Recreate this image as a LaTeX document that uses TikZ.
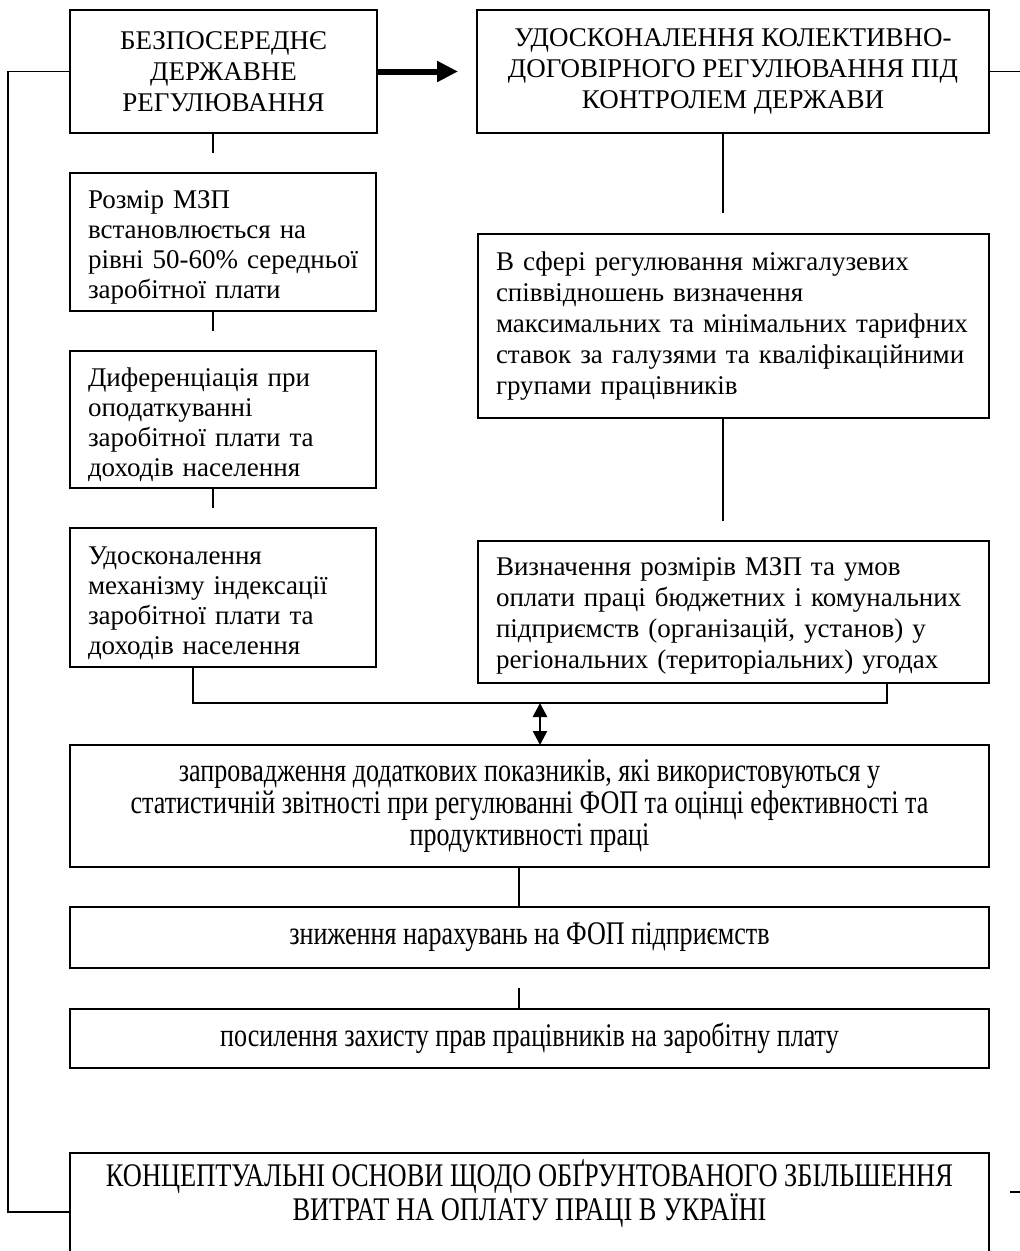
\documentclass[tikz,border=0pt]{standalone}
\usepackage{fontspec}
\setmainfont{Liberation Serif}
\newfontfamily\condfont[FakeStretch=0.79]{Liberation Serif}
\newfontfamily\capcondfont[FakeStretch=0.8]{Liberation Serif}
\usetikzlibrary{arrows.meta}
\newcommand\topstrut[1]{\rule{0pt}{#1}}
\begin{document}
\begin{tikzpicture}[x=1pt,y=-1pt,
  box/.style={draw, line width=1.6pt, inner sep=0pt, outer sep=0pt},
  capfont/.style={font=\fontsize{27}{31}\selectfont},
  cfont/.style={font=\fontsize{27}{30}\selectfont},
  dfont/.style={font=\fontsize{27}{31}\selectfont},
  condtext/.style={font=\condfont\fontsize{33}{32}\selectfont},
  capcondtext/.style={font=\capcondfont\fontsize{33}{34}\selectfont},
  lefttext/.style={align=left, inner xsep=18pt},
  conn/.style={line width=1.4pt},
  bigarrow/.style={line width=6pt, -{Triangle[length=21pt,width=20pt]}},
  dblarrow/.style={line width=2.6pt, {Triangle[length=14pt,width=14pt]}-{Triangle[length=14pt,width=14pt]}}]
\useasboundingbox (0,0) rectangle (1020,1251);
\clip (0,0) rectangle (1020,1251);

% top boxes
\node[box, capfont, align=center, minimum width=307pt, minimum height=123pt] (a) at (223.5,71.5)
  {БЕЗПОСЕРЕДНЄ\\ДЕРЖАВНЕ\\РЕГУЛЮВАННЯ};
\node[box, capfont, align=center, minimum width=512pt, minimum height=123pt] (b) at (733,71.5)
  {УДОСКОНАЛЕННЯ КОЛЕКТИВНО-\\ДОГОВІРНОГО РЕГУЛЮВАННЯ ПІД\\КОНТРОЛЕМ ДЕРЖАВИ};

% left column
\node[box, cfont, lefttext, text width=270pt, minimum height=138pt] (c1) at (223,242)
  {\topstrut{29pt}\mbox{Розмір МЗП}\\\mbox{встановлюється на}\\\mbox{рівні 50-60\% середньої}\\\mbox{заробітної плати}};
\node[box, cfont, lefttext, text width=270pt, minimum height=137pt] (c2) at (223,419.5)
  {\topstrut{29pt}\mbox{Диференціація при}\\\mbox{оподаткуванні}\\\mbox{заробітної плати та}\\\mbox{доходів населення}};
\node[box, cfont, lefttext, text width=270pt, minimum height=139pt] (c3) at (223,597.5)
  {\topstrut{29pt}\mbox{Удосконалення}\\\mbox{механізму індексації}\\\mbox{заробітної плати та}\\\mbox{доходів населення}};

% right column
\node[box, dfont, lefttext, text width=475pt, minimum height=184pt] (d1) at (733.5,326)
  {\mbox{В сфері регулювання міжгалузевих}\\\mbox{співвідношень визначення}\\\mbox{максимальних та мінімальних тарифних}\\\mbox{ставок за галузями та кваліфікаційними}\\\mbox{групами працівників}};
\node[box, dfont, lefttext, text width=475pt, minimum height=142pt] (d2) at (733.5,612)
  {\topstrut{26pt}\mbox{Визначення розмірів МЗП та умов}\\\mbox{оплати праці бюджетних і комунальних}\\\mbox{підприємств (організацій, установ) у}\\\mbox{регіональних (територіальних) угодах}};

% wide boxes
\node[box, condtext, align=center, minimum width=919pt, minimum height=122pt] (e) at (529.5,806)
  {запровадження додаткових показників, які використовуються у\\статистичній звітності при регулюванні ФОП та оцінці ефективності та\\продуктивності праці};
\node[box, condtext, align=center, minimum width=919pt, minimum height=61pt] (f) at (529.5,937.5)
  {зниження нарахувань на ФОП підприємств};
\node[box, condtext, align=center, minimum width=919pt, minimum height=59pt] (g) at (529.5,1038.5)
  {посилення захисту прав працівників на заробітну плату};
\node[box, anchor=north, minimum width=919pt, minimum height=150pt] (h) at (529.5,1153) {};
\node[capcondtext, align=center, inner sep=0pt] (ht) at (529.5,1193)
  {КОНЦЕПТУАЛЬНІ ОСНОВИ ЩОДО ОБҐРУНТОВАНОГО ЗБІЛЬШЕННЯ\\ВИТРАТ НА ОПЛАТУ ПРАЦІ В УКРАЇНІ};

% connectors
\coordinate (ac) at (213,153);
\draw[conn] (a.south -| ac) -- (ac);
\coordinate (c12) at (213,331);
\draw[conn] (c1.south -| c12) -- (c12);
\coordinate (c23) at (213,508);
\draw[conn] (c2.south -| c23) -- (c23);
\coordinate (bd) at (723,213);
\draw[conn] (b.south -| bd) -- (bd);
\coordinate (d12) at (723,521);
\draw[conn] (d1.south -| d12) -- (d12);
\coordinate (bl) at (193,703);
\coordinate (br) at (887,703);
\draw[conn] (c3.south -| bl) -- (bl) -- (br) -- (d2.south -| br);
\coordinate (mid) at (540,703);
\draw[dblarrow] (mid) -- (e.north -| mid);
\coordinate (ef) at (519,867);
\draw[conn] (e.south -| ef) -- (f.north -| ef);
\coordinate (fg) at (519,988);
\draw[conn] (fg) -- (g.north -| fg);
\coordinate (t) at (458,71.5);
\draw[bigarrow] (a.east) -- (t);
\coordinate (r1) at (1020,71.5);
\draw[conn] (b.east) -- (r1);
\coordinate (l1) at (8,71.5);
\coordinate (l2) at (8,1212);
\draw[conn] (a.west) -- (l1) -- (l2) -- (l2 -| h.west);
\draw[conn] (1010,1192) -- (1020,1192);
\end{tikzpicture}
\end{document}
